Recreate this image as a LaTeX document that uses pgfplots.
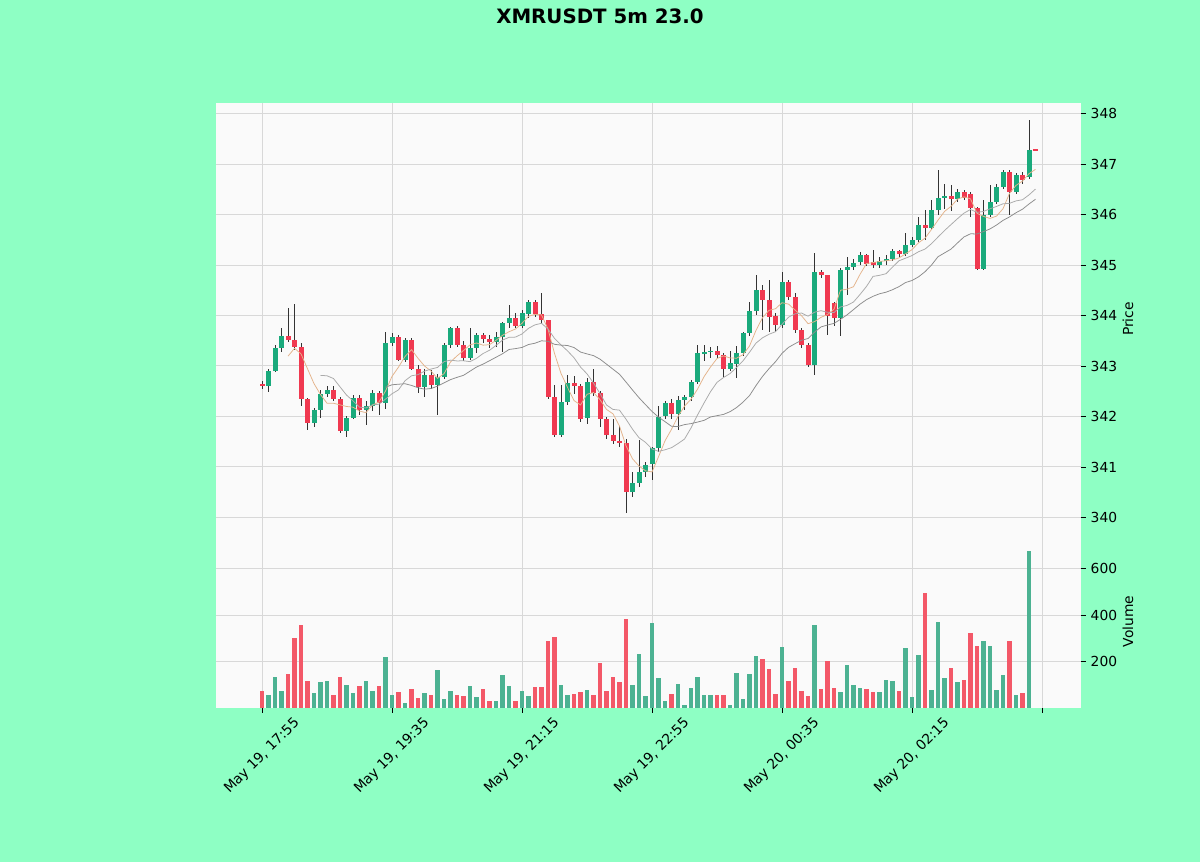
\documentclass[border=0pt]{standalone}
\usepackage{fontspec}
\setmainfont{DejaVu Sans}
\usepackage{pgfplots}
\usepackage{pgfplotstable}
\pgfplotsset{compat=1.18}
\definecolor{bgmint}{RGB}{142,255,196}
\definecolor{axbg}{RGB}{250,250,250}
\definecolor{gridc}{RGB}{216,216,216}
\definecolor{upc}{RGB}{26,170,124}
\definecolor{dnc}{RGB}{240,57,80}
\definecolor{vupc}{RGB}{76,178,146}
\definecolor{vdnc}{RGB}{243,88,104}
\definecolor{ma5c}{RGB}{228,180,140}
\definecolor{ma10c}{RGB}{170,170,170}
\definecolor{ma20c}{RGB}{140,140,140}

\pgfplotstableread{
i O H L C V u M5 M10 M20
0 342.65 342.70 342.55 342.60 72 0 nan nan nan
1 342.60 342.94 342.49 342.90 58 1 nan nan nan
2 342.90 343.42 342.88 343.35 132 1 nan nan nan
3 343.35 343.75 343.28 343.60 75 1 nan nan nan
4 343.60 344.15 343.48 343.52 147 0 343.194 nan nan
5 343.52 344.22 343.32 343.38 302 0 343.350 nan nan
6 343.38 343.45 342.20 342.35 355 0 343.240 nan nan
7 342.35 342.36 341.73 341.87 118 0 342.944 nan nan
8 341.87 342.16 341.80 342.13 64 1 342.650 nan nan
9 342.13 342.53 341.97 342.44 111 1 342.434 342.814 nan
10 342.44 342.60 342.38 342.52 115 1 342.262 342.806 nan
11 342.52 342.60 342.30 342.35 58 0 342.262 342.751 nan
12 342.35 342.38 341.67 341.71 132 0 342.230 342.587 nan
13 341.71 342.00 341.60 341.97 101 1 342.198 342.424 nan
14 341.97 342.43 341.95 342.37 64 1 342.184 342.309 nan
15 342.37 342.43 342.03 342.13 94 0 342.106 342.184 nan
16 342.13 342.30 341.84 342.20 118 1 342.076 342.169 nan
17 342.20 342.53 342.10 342.47 75 1 342.228 342.229 nan
18 342.47 342.50 342.03 342.27 94 0 342.288 342.243 nan
19 342.27 343.68 342.15 343.45 219 1 342.504 342.344 342.579
20 343.45 343.65 343.40 343.58 58 1 342.794 342.450 342.628
21 343.58 343.61 343.09 343.12 68 0 342.978 342.527 342.639
22 343.12 343.55 343.08 343.52 22 1 343.188 342.708 342.648
23 343.52 343.55 342.92 342.95 80 0 343.324 342.806 342.615
24 342.95 343.02 342.46 342.59 44 0 343.152 342.828 342.569
25 342.59 342.95 342.39 342.82 64 1 343.000 342.897 342.541
26 342.82 342.92 342.55 342.62 54 0 342.900 342.939 342.554
27 342.62 342.85 342.03 342.79 164 1 342.754 342.971 342.600
28 342.79 343.45 342.75 343.42 37 1 342.848 343.086 342.665
29 343.42 343.78 343.35 343.75 75 1 343.080 343.116 342.730
30 343.75 343.80 343.38 343.42 58 0 343.200 343.100 342.775
31 343.42 343.50 343.10 343.15 51 0 343.306 343.103 342.815
32 343.15 343.75 343.12 343.35 94 1 343.418 343.086 342.897
33 343.35 343.65 343.25 343.61 47 1 343.456 343.152 342.979
34 343.61 343.65 343.45 343.53 82 0 343.412 343.246 343.037
35 343.53 343.62 343.35 343.47 32 0 343.422 343.311 343.104
36 343.47 343.68 343.38 343.58 29 1 343.508 343.407 343.173
37 343.58 343.88 343.28 343.85 140 1 343.608 343.513 343.242
38 343.85 344.20 343.75 343.96 94 1 343.678 343.567 343.327
39 343.96 344.05 343.75 343.80 29 0 343.732 343.572 343.344
40 343.80 344.10 343.75 344.04 72 1 343.846 343.634 343.367
41 344.04 344.30 343.95 344.27 51 1 343.984 343.746 343.425
42 344.27 344.30 343.98 344.04 90 0 344.022 343.815 343.451
43 344.04 344.45 343.85 343.91 90 0 344.012 343.845 343.499
44 343.91 343.92 342.35 342.39 290 0 343.730 343.731 343.489
45 342.39 342.62 341.60 341.63 305 0 343.248 343.547 343.429
46 341.63 342.62 341.60 342.29 97 1 342.852 343.418 343.413
47 342.29 342.82 342.23 342.66 58 1 342.576 343.299 343.406
48 342.66 342.80 342.45 342.60 61 0 342.314 343.163 343.365
49 342.60 342.65 341.90 341.96 68 0 342.228 342.979 343.276
50 341.96 342.77 341.85 342.69 78 1 342.440 342.844 343.239
51 342.69 342.95 342.40 342.46 58 0 342.474 342.663 343.205
52 342.46 342.50 341.80 341.96 193 0 342.334 342.455 343.135
53 341.96 342.00 341.55 341.63 75 0 342.140 342.227 343.036
54 341.63 341.95 341.45 341.52 132 0 342.052 342.140 342.936
55 341.52 341.82 341.40 341.48 111 0 341.810 342.125 342.836
56 341.48 341.55 340.08 340.50 384 0 341.418 341.946 342.682
57 340.50 340.90 340.40 340.68 101 1 341.162 341.748 342.524
58 340.68 341.54 340.60 340.91 232 1 341.018 341.579 342.371
59 340.91 341.10 340.80 341.05 50 1 340.924 341.488 342.234
60 341.05 341.40 340.74 341.37 365 1 340.902 341.356 342.100
61 341.37 342.20 341.30 342.00 128 1 341.202 341.310 341.987
62 342.00 342.30 341.95 342.26 32 1 341.518 341.340 341.898
63 342.26 342.35 341.95 342.05 61 0 341.746 341.382 341.805
64 342.05 342.40 341.73 342.33 104 1 342.002 341.463 341.802
65 342.33 342.42 342.13 342.38 15 1 342.204 341.553 341.839
66 342.38 342.72 342.30 342.69 85 1 342.342 341.772 341.859
67 342.69 343.42 342.65 343.25 135 1 342.540 342.029 341.889
68 343.25 343.42 343.10 343.28 54 1 342.786 342.266 341.923
69 343.28 343.38 343.15 343.30 54 1 342.980 342.491 341.990
70 343.30 343.40 343.15 343.22 58 0 343.148 342.676 342.016
71 343.22 343.25 342.79 342.95 58 0 343.200 342.771 342.041
72 342.95 343.30 342.90 343.05 15 1 343.160 342.850 342.095
73 343.05 343.40 342.76 343.25 150 1 343.154 342.970 342.176
74 343.25 343.68 343.20 343.65 40 1 343.224 343.102 342.283
75 343.65 344.27 343.60 344.08 147 1 343.396 343.272 342.413
76 344.08 344.80 344.00 344.50 222 1 343.706 343.453 342.613
77 344.50 344.60 343.71 344.30 211 0 343.956 343.558 342.794
78 344.30 344.70 343.68 343.98 166 0 344.102 343.628 342.947
79 343.98 344.05 343.68 343.81 61 0 344.134 343.679 343.085
80 343.81 344.87 343.75 344.67 264 1 344.252 343.824 343.250
81 344.67 344.70 344.30 344.37 115 0 344.226 343.966 343.369
82 344.37 344.44 343.65 343.71 171 0 344.108 344.032 343.441
83 343.71 343.75 343.35 343.42 75 0 343.996 344.049 343.510
84 343.42 343.45 342.98 343.02 51 0 343.838 343.986 343.544
85 343.02 345.23 342.82 344.87 359 1 343.878 344.065 343.669
86 344.87 344.90 344.75 344.80 80 0 343.964 344.095 343.774
87 344.80 344.80 343.61 343.98 204 0 344.018 344.063 343.811
88 344.24 344.26 343.80 343.95 87 0 344.124 344.060 343.844
89 343.95 344.95 343.60 344.90 68 1 344.500 344.169 343.924
90 344.90 345.16 344.40 344.97 187 1 344.520 344.199 344.012
91 344.97 345.12 344.90 345.05 97 1 344.570 344.267 344.117
92 345.05 345.25 345.00 345.20 87 1 344.814 344.416 344.224
93 345.20 345.22 344.98 345.02 80 0 345.028 344.576 344.313
94 345.06 345.29 344.95 345.00 68 0 345.048 344.774 344.380
95 345.00 345.15 344.95 345.08 68 1 345.070 344.795 344.430
96 345.08 345.20 345.00 345.12 121 1 345.084 344.827 344.461
97 345.12 345.32 345.08 345.28 118 1 345.100 344.957 344.510
98 345.28 345.30 345.15 345.22 72 0 345.140 345.084 344.572
99 345.22 345.63 345.18 345.40 259 1 345.220 345.134 344.652
100 345.40 345.55 345.35 345.50 46 1 345.304 345.187 344.693
101 345.50 345.96 345.45 345.80 230 1 345.440 345.262 344.765
102 345.80 346.09 345.50 345.73 494 0 345.530 345.315 344.866
103 345.73 346.29 345.70 346.09 78 1 345.704 345.422 344.999
104 346.09 346.88 346.00 346.32 369 1 345.888 345.554 345.164
105 346.32 346.60 346.10 346.36 130 1 346.060 345.682 345.239
106 346.36 346.58 346.06 346.30 173 0 346.160 345.800 345.314
107 346.30 346.50 346.25 346.45 111 1 346.304 345.917 345.437
108 346.45 346.48 346.28 346.32 121 0 346.350 346.027 345.556
109 346.40 346.45 345.96 346.12 323 0 346.310 346.099 345.617
110 346.12 346.15 344.90 344.93 266 0 346.024 346.042 345.615
111 344.93 346.29 344.90 345.99 287 1 345.962 346.061 345.662
112 345.99 346.58 345.95 346.25 265 1 345.922 346.113 345.714
113 346.25 346.60 346.20 346.55 78 1 345.968 346.159 345.791
114 346.55 346.88 346.50 346.85 143 1 346.114 346.212 345.883
115 346.85 346.88 345.99 346.45 286 0 346.418 346.221 345.952
116 346.45 346.82 346.40 346.78 58 1 346.576 346.269 346.035
117 346.78 346.85 346.60 346.68 64 0 346.662 346.292 346.105
118 346.75 347.87 346.70 347.28 677 1 346.808 346.388 346.208
119 347.29 347.30 347.27 347.27 0 0 346.894 346.504 346.302
}\data

\pgfplotsset{
  panel/.style={
    scale only axis, width=21.971cm,
    xmin=-7.08, xmax=126,
    axis background/.style={fill=axbg},
    axis line style={draw=none},
    grid=major, major grid style={draw=gridc, line width=0.7pt},
    xtick={0,20,40,60,80,100,120},
    ytick pos=right, yticklabel pos=right,
    tick align=outside, major tick length=3.5pt,
    tick style={black, line width=0.6pt},
    /pgf/number format/assume math mode=true,
    tick label style={font=\fontsize{10}{12}\selectfont},
    label style={font=\fontsize{10}{12}\selectfont},
    ylabel style={at={(rel axis cs:1,0.5)}, anchor=center, yshift=-1.19cm},
  },
  candle/.style={draw=none, mark=none, mark size=0pt, forget plot},
}

\begin{document}
\begin{tikzpicture}
\fill[bgmint] (0,0) rectangle (30.48cm,21.8948cm);
\useasboundingbox (0,0) rectangle (30.48cm,21.8948cm);

\node[font=\fontsize{14.3}{17}\selectfont\bfseries] at (15.24cm,21.47cm) {XMRUSDT 5m 23.0};

% ---------- price panel ----------
\begin{axis}[panel,
  at={(5.4864cm,8.3058cm)}, anchor=south west,
  height=10.9728cm,
  ymin=339.653, ymax=348.208,
  ytick={340,341,342,343,344,345,346,347,348},
  xticklabels={}, xtick style={draw=none},
  ylabel={Price},
]
% wicks
\addplot [candle,
  error bars/.cd, y dir=both, y explicit, error mark=none,
  error bar style={line width=0.6pt, draw=black!80}]
  table [x=i, y expr={(\thisrow{H}+\thisrow{L})/2}, y error expr={(\thisrow{H}-\thisrow{L})/2}] {\data};
% up bodies
\addplot [candle,
  restrict expr to domain={\thisrow{u}}{1:1},
  error bars/.cd, y dir=both, y explicit, error mark=none,
  error bar style={line width=3.6pt, draw=upc}]
  table [x=i, y expr={(\thisrow{O}+\thisrow{C})/2}, y error expr={abs(\thisrow{C}-\thisrow{O})/2}] {\data};
% down bodies
\addplot [candle,
  restrict expr to domain={\thisrow{u}}{0:0},
  error bars/.cd, y dir=both, y explicit, error mark=none,
  error bar style={line width=3.6pt, draw=dnc}]
  table [x=i, y expr={(\thisrow{O}+\thisrow{C})/2}, y error expr={abs(\thisrow{C}-\thisrow{O})/2}] {\data};
% moving averages
\addplot [no markers, line width=0.55pt, ma5c] table [x=i, y=M5] {\data};
\addplot [no markers, line width=0.55pt, ma10c] table [x=i, y=M10] {\data};
\addplot [no markers, line width=0.55pt, ma20c] table [x=i, y=M20] {\data};
\end{axis}

% ---------- volume panel ----------
\begin{axis}[panel,
  at={(5.4864cm,3.9116cm)}, anchor=south west,
  height=4.3942cm,
  ymin=0, ymax=744,
  ytick={200,400,600},
  xtick pos=bottom,
  xticklabels={{May 19, 17:55},{May 19, 19:35},{May 19, 21:15},{May 19, 22:55},{May 20, 00:35},{May 20, 02:15},{}},
  xticklabel style={yshift=-1.1cm, rotate=45, anchor=center},
  ylabel={Volume},
]
\addplot [ycomb, no markers, line width=3.0pt, vupc,
  restrict expr to domain={\thisrow{u}}{1:1}] table [x=i, y=V] {\data};
\addplot [ycomb, no markers, line width=3.0pt, vdnc,
  restrict expr to domain={\thisrow{u}}{0:0}] table [x=i, y=V] {\data};
\end{axis}
\end{tikzpicture}
\end{document}
